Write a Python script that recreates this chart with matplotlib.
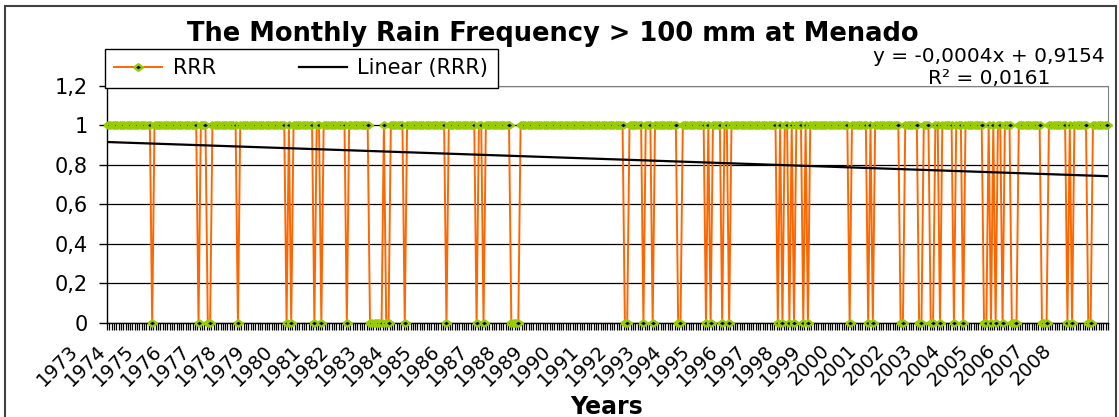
import numpy as np
import matplotlib
matplotlib.use("Agg")
import matplotlib.pyplot as plt
from matplotlib.patches import Rectangle
from matplotlib.transforms import ScaledTranslation

# --- data --------------------------------------------------------------
years = list(range(1973, 2009))
# month numbers (1 = Jan 1973) where the monthly rain did NOT exceed 100 mm
zero_months = [20, 40, 44, 45, 57, 78, 80, 90, 93, 104,
               114, 115, 116, 117, 118, 119, 121, 122, 129, 147,
               160, 163, 175, 176, 177, 178, 224, 225, 232, 236,
               247, 248, 259, 261, 266, 269, 290, 292, 295, 297,
               301, 303, 321, 329, 331, 343, 344, 351, 352, 356,
               357, 360, 366, 370, 379, 380, 382, 384, 387, 391,
               392, 393, 404, 405, 406, 415, 417, 424, 425]
# trend line as printed on the chart (Excel linear fit)
trend_slope = -0.0004
trend_intercept = 0.9154
y_ticks = [0, 0.2, 0.4, 0.6, 0.8, 1.0, 1.2]
y_labels = ["0", "0,2", "0,4", "0,6", "0,8", "1", "1,2"]
title = "The Monthly Rain Frequency > 100 mm at Menado"
trend_label = "y = -0,0004x + 0,9154\nR\u00b2 = 0,0161"

n_months = 12 * len(years)
months = np.arange(1, n_months + 1)
rrr = np.ones(n_months)
rrr[np.array(zero_months) - 1] = 0.0

W, H = 1119, 417
plt.rcParams["font.family"] = ["DejaVu Sans"]
fig = plt.figure(figsize=(W / 100, H / 100), dpi=100)

ax = fig.add_axes([107 / W, 1 - 323 / H, (1108 - 107) / W, (323 - 85.7) / H])

# wide diamond marker like the stretched Excel one
diamond = [(-1.4, 0), (0, 1), (1.4, 0), (0, -1), (-1.4, 0)]
ax.plot(months, rrr, color="#FF6600", lw=1.4, marker=diamond, ms=6.5,
        mfc="#000080", mec="#99CC00", mew=1.7, label="RRR",
        clip_on=False, zorder=3)
ax.plot(months, trend_intercept + trend_slope * months, color="black",
        lw=1.6, label="Linear (RRR)", zorder=4)

ax.set_xlim(0.5, n_months + 0.5)
ax.set_ylim(0, 1.2)
ax.set_yticks(y_ticks, y_labels, fontsize=15)
ax.tick_params(axis="y", length=6, width=1, pad=8)
ax.yaxis.grid(True, color="black", lw=0.9)
ax.set_axisbelow(True)

ax.set_xticks(months[::12], [str(y) for y in years], rotation=45,
              ha="right", va="top", fontsize=14)
ax.set_xticks(np.arange(0.5, n_months + 1), minor=True)
ax.tick_params(axis="x", which="major", length=0, pad=13)
ax.tick_params(axis="x", which="minor", length=5, width=0.9)
shift = ScaledTranslation(-0.26, 0, fig.dpi_scale_trans)
for lbl in ax.get_xticklabels():
    lbl.set_transform(lbl.get_transform() + shift)

for side in ("top", "right"):
    ax.spines[side].set_color("#808080")
for side in ("left", "bottom"):
    ax.spines[side].set_color("black")
    ax.spines[side].set_linewidth(1.0)

leg = ax.legend(loc="upper left", bbox_to_anchor=(105 / W, 1 - 49 / H),
                bbox_transform=fig.transFigure, ncol=2, fontsize=15,
                frameon=True, fancybox=False, edgecolor="black",
                framealpha=1, handlelength=2.3, handletextpad=0.5,
                columnspacing=4.0, borderpad=0.45, borderaxespad=0)
leg.get_frame().set_linewidth(1.0)

fig.text(553 / W, 1 - 41 / H, title, ha="center", va="baseline",
         fontsize=18.5, fontweight="bold")
fig.text(989 / W, 1 - 84 / H, trend_label, ha="center", va="baseline",
         multialignment="center", fontsize=14.5, linespacing=1.2)
fig.text(607 / W, 1 - 414 / H, "Years", ha="center", va="baseline",
         fontsize=17, fontweight="bold")

fig.add_artist(Rectangle((5 / W, -0.05), (1116 - 5) / W, 1.05 - 6 / H,
                         transform=fig.transFigure, fill=False,
                         ec="#404040", lw=1.5, clip_on=False))

fig.savefig("out.png", dpi=100)
